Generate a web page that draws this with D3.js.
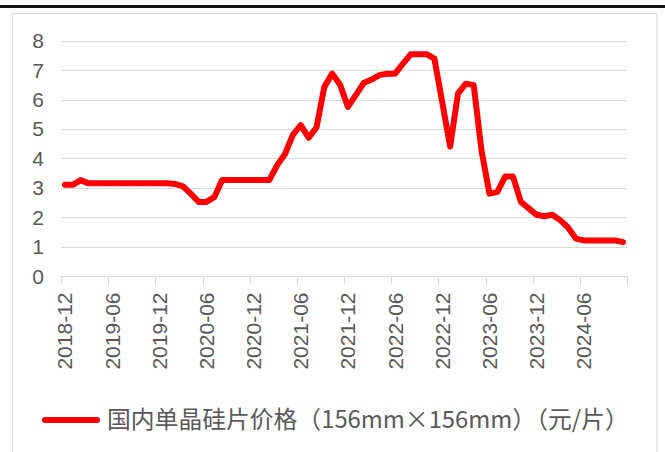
<!DOCTYPE html>
<html>
<head>
<meta charset="utf-8">
<script src="https://cdn.jsdelivr.net/npm/d3@7"></script>
<style>
  html, body { margin: 0; padding: 0; background: #fff; }
  svg { display: block; }
</style>
</head>
<body>
<svg id="chart" width="665" height="452"></svg>
<script>
// Monthly categories, 2018-12 through 2024-11
const months = [
  "2018-12",
  "2019-01","2019-02","2019-03","2019-04","2019-05","2019-06","2019-07","2019-08","2019-09","2019-10","2019-11","2019-12",
  "2020-01","2020-02","2020-03","2020-04","2020-05","2020-06","2020-07","2020-08","2020-09","2020-10","2020-11","2020-12",
  "2021-01","2021-02","2021-03","2021-04","2021-05","2021-06","2021-07","2021-08","2021-09","2021-10","2021-11","2021-12",
  "2022-01","2022-02","2022-03","2022-04","2022-05","2022-06","2022-07","2022-08","2022-09","2022-10","2022-11","2022-12",
  "2023-01","2023-02","2023-03","2023-04","2023-05","2023-06","2023-07","2023-08","2023-09","2023-10","2023-11","2023-12",
  "2024-01","2024-02","2024-03","2024-04","2024-05","2024-06","2024-07","2024-08","2024-09","2024-10","2024-11"
];

// 国内单晶硅片价格（元/片）
const prices = [
  3.10,
  3.10, 3.26, 3.15, 3.15, 3.15, 3.15, 3.15, 3.15, 3.15, 3.15, 3.15, 3.15,
  3.15, 3.13, 3.05, 2.80, 2.52, 2.52, 2.68, 3.26, 3.26, 3.26, 3.26, 3.26,
  3.26, 3.26, 3.77, 4.15, 4.80, 5.13, 4.70, 5.05, 6.43, 6.88, 6.50, 5.75,
  6.15, 6.56, 6.68, 6.83, 6.88, 6.88, 7.22, 7.54, 7.54, 7.54, 7.39, 5.90,
  4.40, 6.20, 6.54, 6.49, 4.25, 2.80, 2.85, 3.38, 3.38, 2.52, 2.30, 2.08,
  2.03, 2.08, 1.90, 1.65, 1.27, 1.21, 1.21, 1.21, 1.21, 1.21, 1.15
];

const yTicks = [0, 1, 2, 3, 4, 5, 6, 7, 8];
const xTickLabels = ["2018-12","2019-06","2019-12","2020-06","2020-12","2021-06",
                     "2021-12","2022-06","2022-12","2023-06","2023-12","2024-06"];
const seriesName = "国内单晶硅片价格（156mm×156mm）（元/片）";

const svg = d3.select("#chart");
const plot = { left: 61, right: 627, top: 40.7, bottom: 276 };
const tickFont = "Liberation Sans, Arial, sans-serif";

// page rule above the chart and the chart frame
svg.append("rect").attr("x", 0).attr("y", 5).attr("width", 665).attr("height", 3).attr("fill", "#111");
svg.append("rect")
  .attr("x", 12.5).attr("y", 13.5).attr("width", 644.5).attr("height", 460)
  .attr("fill", "none").attr("stroke", "#d9d9d9").attr("stroke-width", 1);

const x = d3.scaleBand().domain(months).range([plot.left, plot.right]).padding(0);
const y = d3.scaleLinear().domain([0, 8]).range([plot.bottom, plot.top]);

// horizontal gridlines
svg.append("g").selectAll("line")
  .data(yTicks.filter(d => d > 0))
  .join("line")
  .attr("x1", plot.left).attr("x2", plot.right)
  .attr("y1", d => Math.round(y(d)) + 0.5).attr("y2", d => Math.round(y(d)) + 0.5)
  .attr("stroke", "#d9d9d9").attr("stroke-width", 1);

// y axis labels
svg.append("g").selectAll("text")
  .data(yTicks)
  .join("text")
  .attr("x", 44).attr("y", d => y(d))
  .attr("dy", "0.36em")
  .attr("text-anchor", "end")
  .attr("font-family", tickFont)
  .attr("font-size", 21)
  .attr("fill", "#595959")
  .text(d => d);

// category axis: baseline, tick marks on band boundaries every 6 months
const axisY = Math.round(y(0)) + 0.5;
const ax = svg.append("g");
ax.append("line")
  .attr("x1", plot.left).attr("x2", plot.right)
  .attr("y1", axisY).attr("y2", axisY)
  .attr("stroke", "#d9d9d9");
const tickIdx = d3.range(0, months.length + 1, 6);
ax.selectAll("line.tick")
  .data(tickIdx)
  .join("line")
  .attr("class", "tick")
  .attr("x1", i => Math.round(i < months.length ? x(months[i]) : plot.right) + 0.5)
  .attr("x2", i => Math.round(i < months.length ? x(months[i]) : plot.right) + 0.5)
  .attr("y1", axisY).attr("y2", axisY + 8)
  .attr("stroke", "#d9d9d9");

ax.selectAll("text")
  .data(xTickLabels)
  .join("text")
  .attr("transform", d => `translate(${x(d) + x.bandwidth() / 2},${axisY + 16}) rotate(-90)`)
  .attr("dy", "0.36em")
  .attr("text-anchor", "end")
  .attr("font-family", tickFont)
  .attr("font-size", 21)
  .attr("fill", "#595959")
  .text(d => d);

// price line
const line = d3.line()
  .x((d, i) => x(months[i]) + x.bandwidth() / 2)
  .y(d => y(d));

svg.append("path")
  .datum(prices)
  .attr("d", line)
  .attr("fill", "none")
  .attr("stroke", "#ff0000")
  .attr("stroke-width", 6)
  .attr("stroke-linejoin", "round")
  .attr("stroke-linecap", "round");

// legend
const lg = svg.append("g");
lg.append("line")
  .attr("x1", 45).attr("x2", 97)
  .attr("y1", 420).attr("y2", 420)
  .attr("stroke", "#ff0000").attr("stroke-width", 6)
  .attr("stroke-linecap", "round");
lg.append("text")
  .attr("x", 107).attr("y", 420)
  .attr("dy", "0.35em")
  .attr("font-family", "Noto Sans CJK SC, sans-serif")
  .attr("font-size", 23.8)
  .attr("fill", "#595959")
  .text(seriesName);
</script>
</body>
</html>
